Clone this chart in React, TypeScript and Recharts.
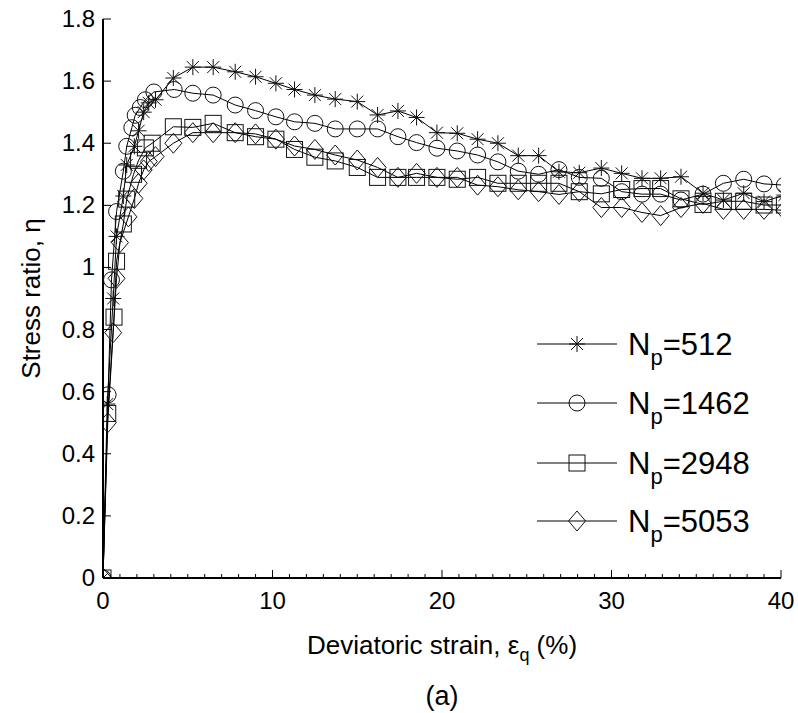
import { ScatterChart, Scatter, XAxis, YAxis } from "recharts";

const FONT = '"Liberation Sans", Arial, sans-serif';

// axis ticks
const X_TICKS = Array.from({ length: 41 }, (_, i) => i);
const X_MAJOR = [0, 10, 20, 30, 40];
const Y_TICKS = [0, 0.2, 0.4, 0.6, 0.8, 1, 1.2, 1.4, 1.6, 1.8];
const Y_LABELS = ["0", "0.2", "0.4", "0.6", "0.8", "1", "1.2", "1.4", "1.6", "1.8"];

// N_p = 512 (asterisk)
const STRAIN_512 = [0, 0.25, 0.6, 0.8, 1.2, 1.4, 1.85, 2.1, 2.4, 2.7, 3.1, 4.15, 5.3, 6.5, 7.8, 9.0, 10.2, 11.3, 12.5, 13.7, 15.0, 16.2, 17.4, 18.5, 19.7, 20.9, 22.1, 23.3, 24.5, 25.7, 26.9, 28.1, 29.4, 30.6, 31.8, 32.9, 34.1, 35.4, 36.6, 37.8, 39.0, 40.2];
const ETA_512 = [0, 0.56, 0.9, 1.1, 1.23, 1.33, 1.39, 1.44, 1.5, 1.53, 1.54, 1.61, 1.645, 1.645, 1.63, 1.614, 1.593, 1.573, 1.555, 1.542, 1.534, 1.491, 1.504, 1.483, 1.434, 1.432, 1.413, 1.4, 1.36, 1.36, 1.308, 1.305, 1.32, 1.303, 1.287, 1.287, 1.292, 1.239, 1.217, 1.239, 1.212, 1.233];

// N_p = 1462 (circle)
const STRAIN_1462 = [0, 0.3, 0.5, 0.8, 1.2, 1.4, 1.7, 1.9, 2.2, 2.5, 3.0, 4.2, 5.3, 6.5, 7.8, 9.0, 10.2, 11.3, 12.5, 13.7, 15.0, 16.2, 17.4, 18.5, 19.7, 20.9, 22.1, 23.3, 24.5, 25.7, 26.9, 28.1, 29.4, 30.6, 31.8, 32.9, 34.1, 35.4, 36.6, 37.8, 39.0, 40.2];
const ETA_1462 = [0, 0.59, 0.96, 1.18, 1.31, 1.39, 1.45, 1.49, 1.515, 1.54, 1.565, 1.573, 1.561, 1.555, 1.523, 1.505, 1.485, 1.469, 1.464, 1.446, 1.446, 1.446, 1.421, 1.402, 1.384, 1.375, 1.362, 1.34, 1.31, 1.3, 1.315, 1.29, 1.287, 1.244, 1.236, 1.236, 1.217, 1.236, 1.271, 1.284, 1.269, 1.265];

// N_p = 2948 (square)
const STRAIN_2948 = [0, 0.28, 0.65, 0.8, 1.2, 1.4, 1.8, 2.1, 2.5, 2.9, 4.15, 5.3, 6.5, 7.8, 9.0, 10.2, 11.3, 12.5, 13.7, 15.0, 16.2, 17.4, 18.5, 19.7, 20.9, 22.1, 23.3, 24.5, 25.7, 26.9, 28.1, 29.4, 30.6, 31.8, 32.9, 34.1, 35.4, 36.6, 37.8, 39.0, 40.2];
const ETA_2948 = [0, 0.53, 0.84, 1.02, 1.14, 1.22, 1.3, 1.345, 1.385, 1.4, 1.453, 1.451, 1.464, 1.434, 1.421, 1.413, 1.38, 1.355, 1.343, 1.322, 1.29, 1.29, 1.29, 1.29, 1.284, 1.29, 1.271, 1.271, 1.271, 1.271, 1.244, 1.237, 1.251, 1.254, 1.254, 1.221, 1.203, 1.213, 1.213, 1.201, 1.201];

// N_p = 5053 (diamond)
const STRAIN_5053 = [0, 0.28, 0.6, 0.8, 1.0, 1.5, 1.85, 2.1, 2.4, 2.7, 3.1, 4.15, 5.3, 6.5, 7.8, 9.0, 10.2, 11.3, 12.5, 13.7, 15.0, 16.2, 17.4, 18.5, 19.7, 20.9, 22.1, 23.3, 24.5, 25.7, 26.9, 28.1, 29.4, 30.6, 31.8, 32.9, 34.1, 35.4, 36.6, 37.8, 39.0, 40.2];
const ETA_5053 = [0, 0.5, 0.79, 0.965, 1.08, 1.163, 1.222, 1.271, 1.314, 1.341, 1.357, 1.4, 1.434, 1.434, 1.434, 1.43, 1.413, 1.391, 1.38, 1.362, 1.346, 1.322, 1.29, 1.303, 1.29, 1.29, 1.265, 1.26, 1.25, 1.244, 1.235, 1.244, 1.193, 1.193, 1.177, 1.167, 1.193, 1.206, 1.187, 1.187, 1.187, 1.184];

const toPoints = (xs: number[], ys: number[]) => xs.map((x, i) => ({ x, y: ys[i] }));

const SERIES = [
  { label: "512", marker: "star", data: toPoints(STRAIN_512, ETA_512) },
  { label: "1462", marker: "circle", data: toPoints(STRAIN_1462, ETA_1462) },
  { label: "2948", marker: "square", data: toPoints(STRAIN_2948, ETA_2948) },
  { label: "5053", marker: "diamond", data: toPoints(STRAIN_5053, ETA_5053) },
];

const W = 798;
const H = 713;
const PLOT = { left: 103, top: 19, right: 781, bottom: 578 };

function Marker({ cx, cy, kind }: { cx: number; cy: number; kind: string }) {
  const s = { stroke: "#111", strokeWidth: 1, fill: "none" };
  if (kind === "circle") return <circle cx={cx} cy={cy} r={8} {...s} />;
  if (kind === "square") return <rect x={cx - 8} y={cy - 8} width={16} height={16} {...s} />;
  if (kind === "diamond")
    return <path d={`M${cx},${cy - 10}L${cx + 8.5},${cy}L${cx},${cy + 10}L${cx - 8.5},${cy}Z`} {...s} />;
  const d = 6;
  return (
    <path
      d={`M${cx - 8},${cy}H${cx + 8}M${cx},${cy - 8}V${cy + 8}M${cx - d},${cy - d}L${cx + d},${cy + d}M${cx - d},${cy + d}L${cx + d},${cy - d}`}
      {...s}
    />
  );
}

const BottomTick = (props: any) => {
  const { x, y, payload } = props;
  const major = X_MAJOR.includes(payload.value);
  return (
    <g>
      <line x1={x} x2={x} y1={y} y2={y - (major ? 8 : 4)} stroke="#000" />
      {major && (
        <text x={x} y={y + 31} textAnchor="middle" fontSize={24} fontFamily={FONT} fill="#000">
          {payload.value}
        </text>
      )}
    </g>
  );
};

const TopTick = (props: any) => {
  const { x, y, payload } = props;
  const major = X_MAJOR.includes(payload.value);
  return <line x1={x} x2={x} y1={y} y2={y + (major ? 8 : 4)} stroke="#000" />;
};

const LeftTick = (props: any) => {
  const { x, y, payload } = props;
  const idx = Y_TICKS.indexOf(payload.value);
  return (
    <g>
      <line x1={x} x2={x + 8} y1={y} y2={y} stroke="#000" />
      <text x={x - 8} y={y + 8} textAnchor="end" fontSize={24} fontFamily={FONT} fill="#000">
        {Y_LABELS[idx]}
      </text>
    </g>
  );
};

const RightTick = (props: any) => {
  const { x, y } = props;
  return <line x1={x} x2={x - 8} y1={y} y2={y} stroke="#000" />;
};

const LEGEND_ROWS = [344, 403, 463, 521];

export default function App() {
  const axisLine = { stroke: "#000", strokeWidth: 2 };
  return (
    <div style={{ position: "absolute", left: 0, top: 0, width: W, height: H, background: "#fff" }}>
      <ScatterChart
        width={W}
        height={H}
        margin={{ top: PLOT.top, right: W - PLOT.right, left: 0, bottom: 0 }}
      >
        <XAxis
          xAxisId={0}
          type="number"
          dataKey="x"
          domain={[0, 40]}
          ticks={X_TICKS}
          interval={0}
          allowDataOverflow
          height={H - PLOT.bottom}
          tickSize={0}
          tickMargin={0}
          tickLine={false}
          axisLine={axisLine}
          tick={<BottomTick />}
        />
        <XAxis
          xAxisId="top"
          orientation="top"
          type="number"
          dataKey="x"
          domain={[0, 40]}
          ticks={X_TICKS}
          interval={0}
          allowDataOverflow
          height={0}
          tickSize={0}
          tickMargin={0}
          tickLine={false}
          axisLine={axisLine}
          tick={<TopTick />}
        />
        <YAxis
          yAxisId={0}
          type="number"
          dataKey="y"
          domain={[0, 1.8]}
          ticks={Y_TICKS}
          interval={0}
          allowDataOverflow
          width={PLOT.left}
          tickSize={0}
          tickMargin={0}
          tickLine={false}
          axisLine={axisLine}
          tick={<LeftTick />}
        />
        <YAxis
          yAxisId="right"
          orientation="right"
          type="number"
          dataKey="y"
          domain={[0, 1.8]}
          ticks={Y_TICKS}
          interval={0}
          allowDataOverflow
          width={0}
          tickSize={0}
          tickMargin={0}
          tickLine={false}
          axisLine={axisLine}
          tick={<RightTick />}
        />
        {SERIES.map((s) => (
          <Scatter
            key={s.label}
            xAxisId={0}
            yAxisId={0}
            data={s.data}
            line={{ stroke: "#000", strokeWidth: 1 }}
            lineType="joint"
            isAnimationActive={false}
            shape={(p: any) => <Marker cx={p.cx} cy={p.cy} kind={s.marker} />}
          />
        ))}
      </ScatterChart>
      <svg
        width={W}
        height={H}
        style={{ position: "absolute", left: 0, top: 0, pointerEvents: "none" }}
        fontFamily={FONT}
      >
        <text
          transform={`translate(40, ${(PLOT.top + PLOT.bottom) / 2}) rotate(-90)`}
          textAnchor="middle"
          fontSize={26}
          fill="#000"
        >
          Stress ratio, η
        </text>
        <text x={(PLOT.left + PLOT.right) / 2} y={654} textAnchor="middle" fontSize={26} fill="#000">
          Deviatoric strain, ε
          <tspan fontSize={18} dy={7}>q</tspan>
          <tspan dy={-7}> (%)</tspan>
        </text>
        <text x={(PLOT.left + PLOT.right) / 2} y={705} textAnchor="middle" fontSize={27} fill="#000">
          (a)
        </text>
        {SERIES.map((s, i) => {
          const y = LEGEND_ROWS[i];
          return (
            <g key={s.label}>
              <line x1={537} x2={617} y1={y} y2={y} stroke="#000" strokeWidth={1} />
              <Marker cx={577} cy={y} kind={s.marker} />
              <text x={628} y={y + 11} fontSize={31} fill="#000">
                N
                <tspan fontSize={22} dy={10}>p</tspan>
                <tspan dy={-10}>={s.label}</tspan>
              </text>
            </g>
          );
        })}
      </svg>
    </div>
  );
}
